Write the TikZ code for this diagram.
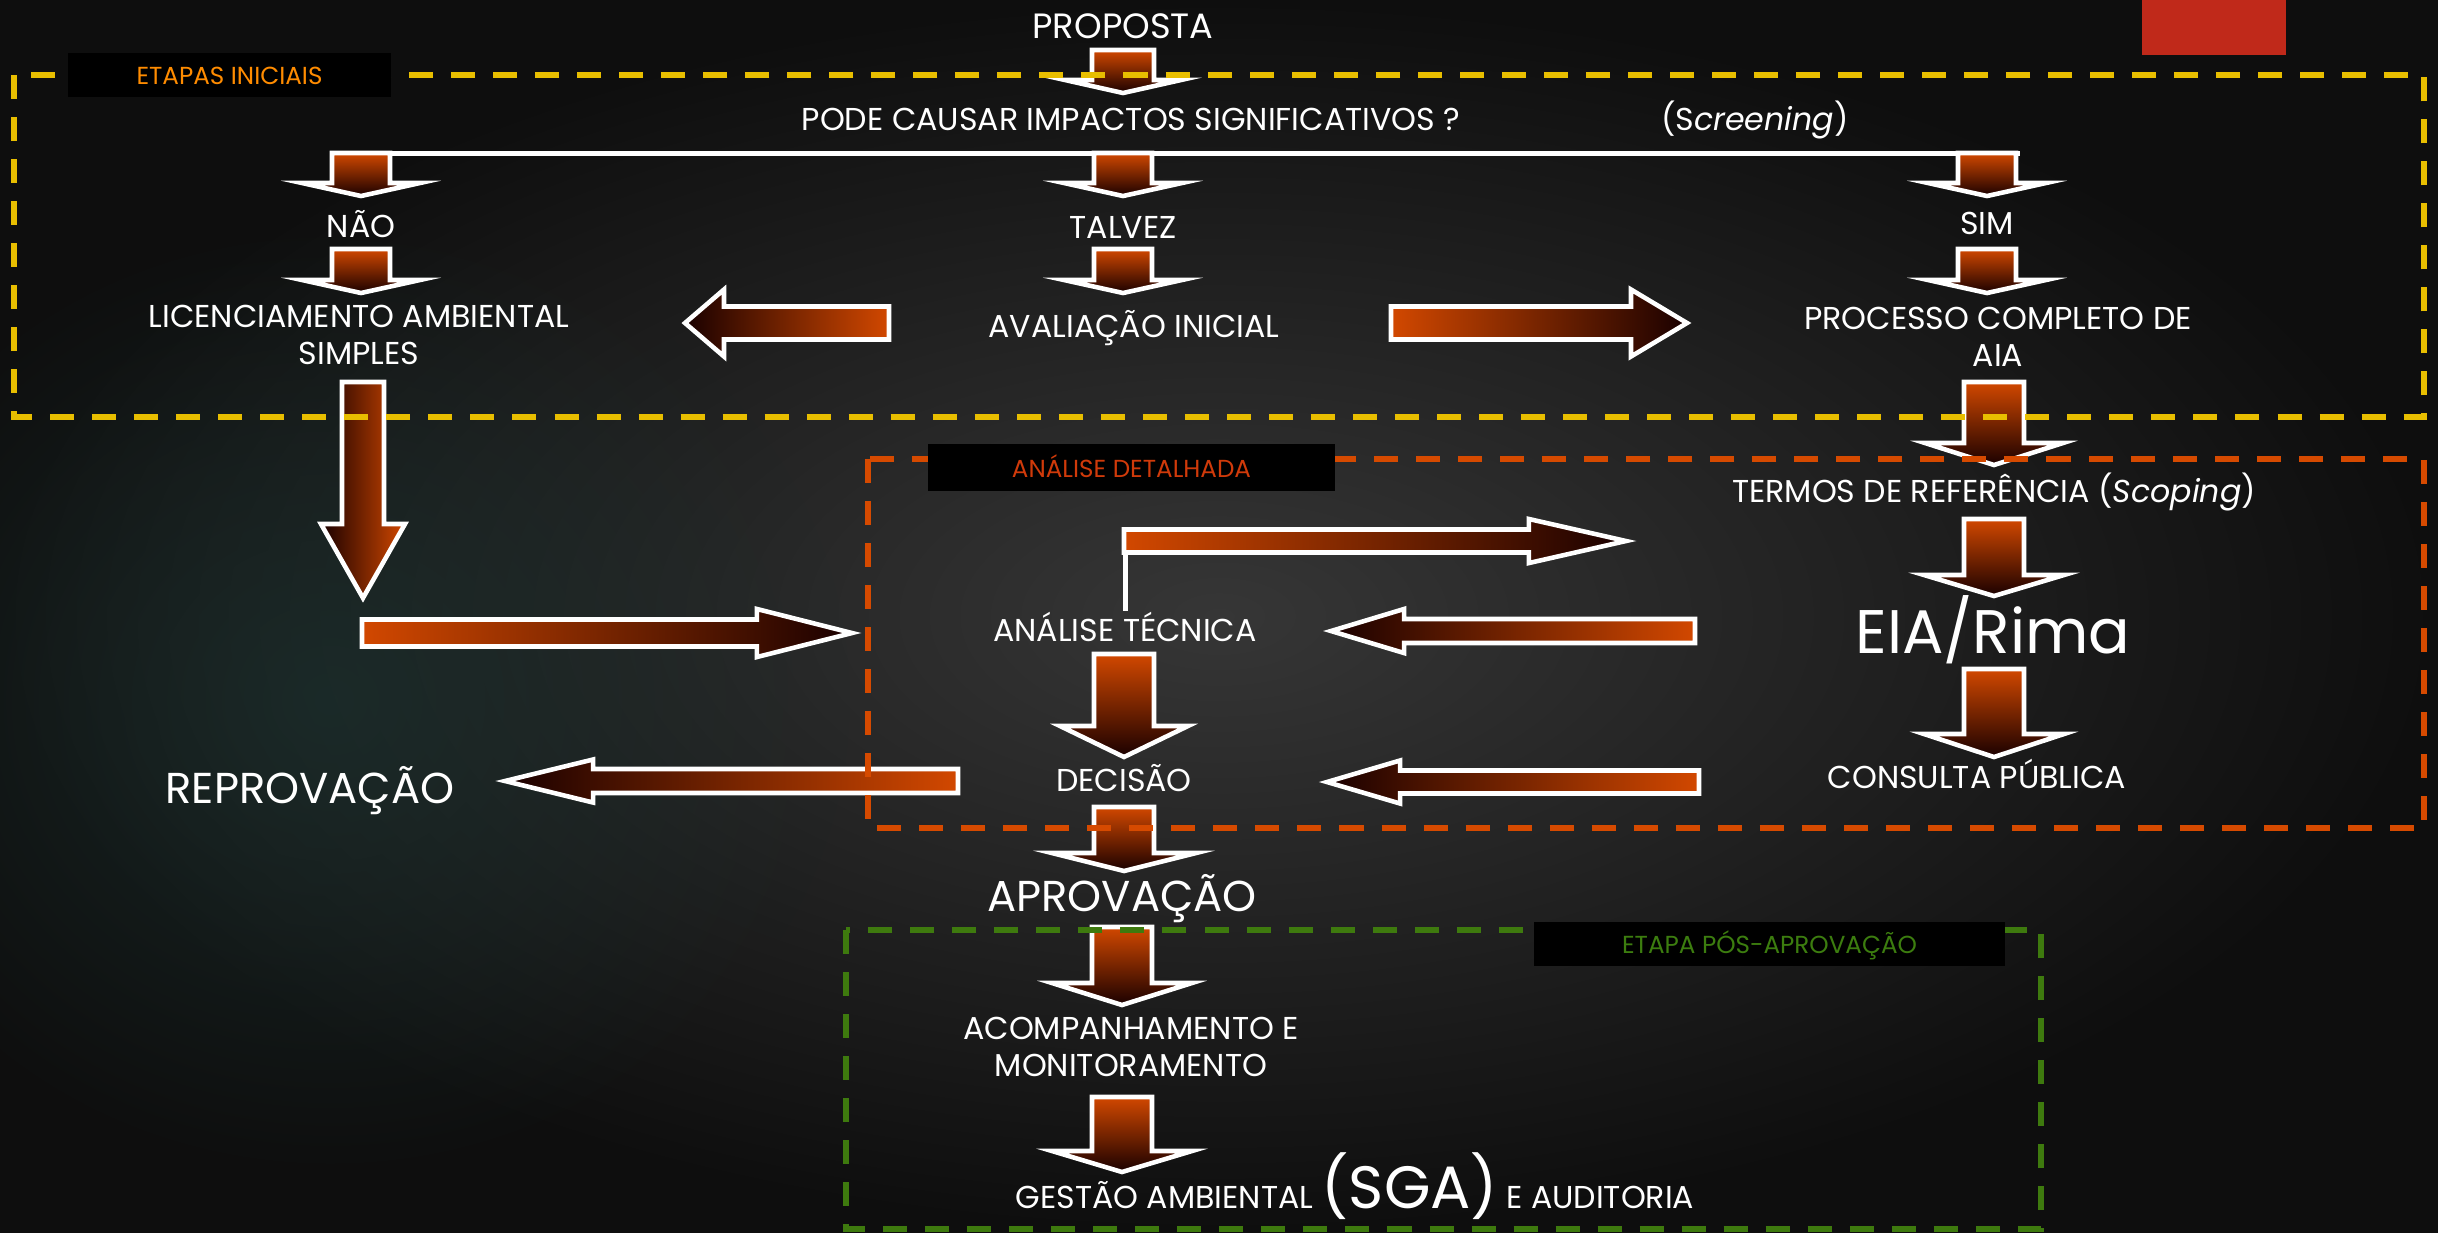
\documentclass[tikz,border=0pt]{standalone}
\usepackage{fontspec}
\setmainfont{Poppins}
\usetikzlibrary{calc,fadings}

\definecolor{fundoclaro}{RGB}{54,54,54}
\definecolor{fundoescuro}{RGB}{14,14,14}
\definecolor{fundoverde}{RGB}{28,48,46}
\definecolor{amarelo}{RGB}{232,190,0}
\definecolor{laranja}{RGB}{214,74,0}
\definecolor{verde}{RGB}{62,122,14}
\definecolor{txtlaranja}{RGB}{255,140,0}
\definecolor{txtvermelho}{RGB}{208,58,10}
\definecolor{txtverde}{RGB}{60,125,15}
\definecolor{vermelho}{RGB}{192,41,26}
\definecolor{setaclara}{RGB}{210,72,0}
\definecolor{setaescura}{RGB}{26,0,0}

\tikzfading[name=suave, inner color=transparent!25, outer color=transparent!100]

% seta de bloco: #1 sombreado, #2 inicio, #3 ponta, #4 meia haste, #5 meia cabeca, #6 comprimento da cabeca
\newcommand{\fluxo}[6]{%
    \coordinate (fa) at #2;
    \coordinate (fb) at #3;
    \coordinate (fh) at ($(fb)!#6!(fa)$);
    \path[seta, #1] ($(fa)!#4!90:(fb)$) -- ($(fh)!#4!90:(fb)$) -- ($(fh)!#5!90:(fb)$) -- (fb)
        -- ($(fh)!#5!-90:(fb)$) -- ($(fh)!#4!-90:(fb)$) -- ($(fa)!#4!-90:(fb)$) -- cycle;
}

\begin{document}
\begin{tikzpicture}[
        x=0.01cm, y=-0.01cm,
        texto/.style={text=white, inner sep=0pt, font=\fontsize{9}{10.5}\selectfont},
        grande/.style={font=\fontsize{12.3}{14}\selectfont},
        etiqueta/.style={fill=black, inner xsep=0pt, inner ysep=0.03cm, text height=0.285cm, text depth=0.095cm,
            minimum height=0.44cm, font=\fontsize{7}{8}\selectfont},
        caixa/.style={line width=0.06cm, dash pattern=on 0.24cm off 0.18cm},
        seta/.style={draw=white, line width=1.3pt, line join=miter},
        linha/.style={draw=white, line width=0.05cm},
        desce/.style={top color=setaclara, bottom color=setaescura},
        direita/.style={left color=setaclara, right color=setaescura},
        esquerda/.style={left color=setaescura, right color=setaclara}
    ]
    \useasboundingbox (0,0) rectangle (2438,1232);
    \shade[inner color=fundoclaro, outer color=fundoescuro] (0,0) rectangle (2438,1232);
    \fill[fundoverde, path fading=suave] (330,700) ellipse (520 and 480);
    \fill[vermelho] (2142,0) rectangle (2286,55);

    % textos
    \node[texto, font=\fontsize{10}{12}\selectfont, anchor=base] (proposta) at (1123,38) {PROPOSTA};
    \node[texto, anchor=base] (pergunta) at (1131,130) {PODE CAUSAR IMPACTOS SIGNIFICATIVOS ?};
    \node[texto, anchor=base] (screening) at (1755,130) {(S\textit{creening})};
    \node[texto, anchor=base] (nao) at (361,237) {NÃO};
    \node[texto, anchor=base] (talvez) at (1123,238) {TALVEZ};
    \node[texto, anchor=base] (sim) at (1987,234) {SIM};
    \node[texto, align=center] (licenc) at (359,335) {LICENCIAMENTO AMBIENTAL\\SIMPLES};
    \node[texto, anchor=base] (aval) at (1134,337) {AVALIAÇÃO INICIAL};
    \node[texto, align=center] (processo) at (1998,337) {PROCESSO COMPLETO DE\\AIA};
    \node[texto, anchor=base] (termos) at (1994,502) {TERMOS DE REFERÊNCIA (\textit{Scoping})};
    \node[texto, font=\fontsize{17.5}{20}\selectfont, anchor=base] (eia) at (1993,653) {EIA/Rima};
    \node[texto, anchor=base] (consulta) at (1977,788) {CONSULTA PÚBLICA};
    \node[texto, anchor=base] (analise) at (1125,641) {ANÁLISE TÉCNICA};
    \node[texto, anchor=base] (decisao) at (1124,791) {DECISÃO};
    \node[texto, grande, anchor=base] (reprov) at (310,803) {REPROVAÇÃO};
    \node[texto, grande, anchor=base] (aprov) at (1122,911) {APROVAÇÃO};
    \node[texto, align=center] (acomp) at (1131,1047) {ACOMPANHAMENTO E\\MONITORAMENTO};
    \node[texto, anchor=base] (gestao) at (1355,1208) {GESTÃO AMBIENTAL {\fontsize{17}{20}\selectfont(SGA)} E AUDITORIA};

    % setas
    \coordinate (ramoE) at (331,153);
    \coordinate (ramoD) at (2020,153);
    \draw[linha] (ramoE) -- (ramoD);
    \fluxo{desce}{(proposta |- 0,50)}{(proposta |- 0,93)}{0.31cm}{0.58cm}{0.13cm}
    \foreach \n in {nao,talvez,sim} {
        \fluxo{desce}{(\n |- 0,153)}{(\n |- 0,196)}{0.29cm}{0.59cm}{0.13cm}
        \fluxo{desce}{(\n |- 0,249)}{(\n |- 0,293)}{0.29cm}{0.59cm}{0.13cm}
    }
    \fluxo{esquerda}{(889,323)}{(685,323)}{0.165cm}{0.335cm}{0.39cm}
    \fluxo{direita}{(1391,323)}{(1687,323)}{0.165cm}{0.335cm}{0.56cm}
    \fluxo{esquerda}{(363,382)}{(363,598)}{0.21cm}{0.42cm}{0.74cm}
    \fluxo{direita}{(362,633)}{(852,633)}{0.135cm}{0.24cm}{0.95cm}
    \draw[linha] (analise.north) -- (analise.north |- 0,530);
    \fluxo{direita}{(1124,541)}{(1626,541)}{0.115cm}{0.22cm}{0.97cm}
    \fluxo{esquerda}{(1695,631)}{(1331,631)}{0.12cm}{0.22cm}{0.73cm}
    \fluxo{esquerda}{(1699,782)}{(1327,782)}{0.115cm}{0.215cm}{0.73cm}
    \fluxo{esquerda}{(958,781)}{(505,781)}{0.12cm}{0.215cm}{0.88cm}
    \fluxo{desce}{(termos |- 0,382)}{(termos |- 0,465)}{0.30cm}{0.69cm}{0.22cm}
    \fluxo{desce}{(termos |- 0,519)}{(termos |- 0,596)}{0.30cm}{0.70cm}{0.21cm}
    \fluxo{desce}{(termos |- 0,669)}{(termos |- 0,757)}{0.30cm}{0.70cm}{0.23cm}
    \fluxo{desce}{(decisao |- 0,654)}{(decisao |- 0,757)}{0.30cm}{0.64cm}{0.31cm}
    \fluxo{desce}{(decisao |- 0,807)}{(decisao |- 0,871)}{0.30cm}{0.72cm}{0.18cm}
    \fluxo{desce}{(aprov |- 0,927)}{(aprov |- 0,1005)}{0.30cm}{0.70cm}{0.22cm}
    \fluxo{desce}{(aprov |- 0,1097)}{(aprov |- 0,1172)}{0.30cm}{0.70cm}{0.21cm}

    % etapas
    \draw[caixa, amarelo] (14,75) rectangle (2424,417);
    \draw[caixa, laranja] (868,459) rectangle (2424,828);
    \draw[caixa, verde] (846,930) rectangle (2041,1229);
    \node[etiqueta, text=txtlaranja, minimum width=3.23cm] (etapas) at (229.5,75) {ETAPAS INICIAIS};
    \node[etiqueta, text=txtvermelho, minimum width=4.07cm, minimum height=0.47cm] (detalhada) at (1131.5,467.5) {ANÁLISE DETALHADA};
    \node[etiqueta, text=txtverde, minimum width=4.71cm] (posaprov) at (1769.5,944) {ETAPA PÓS-APROVAÇÃO};
\end{tikzpicture}
\end{document}
